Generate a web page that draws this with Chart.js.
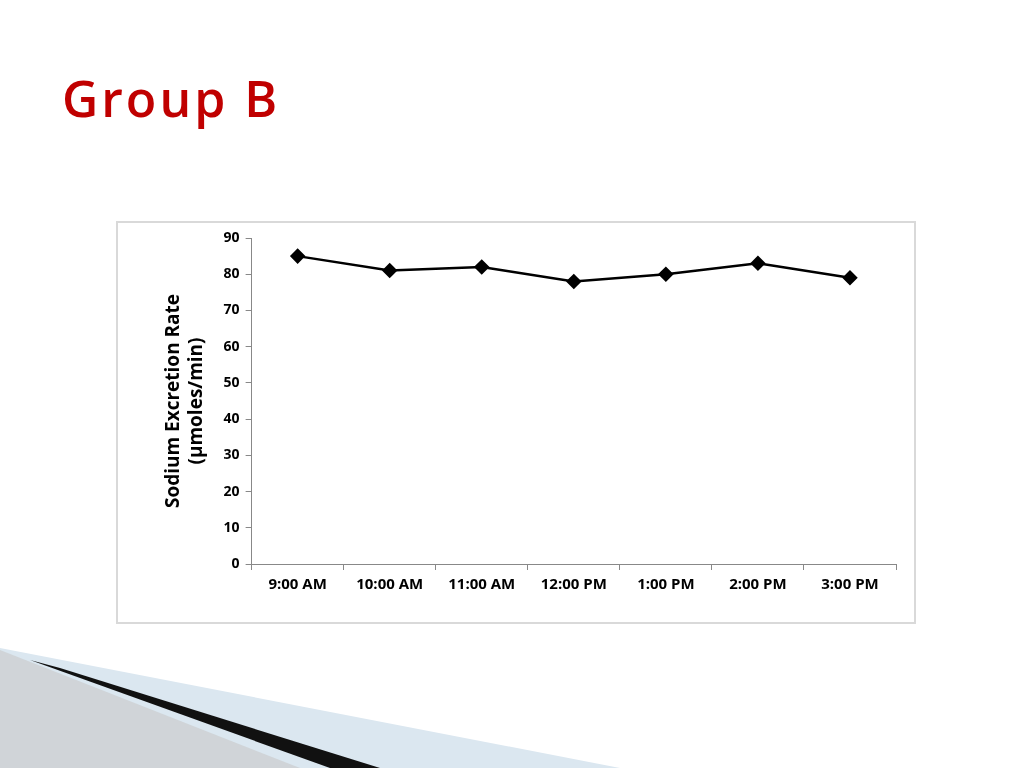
<!DOCTYPE html>
<html><head><meta charset="utf-8">
<script src="https://cdn.jsdelivr.net/npm/chart.js@4/dist/chart.umd.min.js"></script>
<style>
body{margin:0;width:1024px;height:768px;background:#fff;position:relative;overflow:hidden;font-family:"Open Sans",sans-serif}
h1{position:absolute;left:62px;top:64px;margin:0;font:600 50px "Open Sans",sans-serif;color:#C00000;letter-spacing:3px}
#box{position:absolute;left:116px;top:221px;width:796px;height:399px;border:2px solid #d9d9d9;box-sizing:content-box}
svg{position:absolute;left:0;top:0}
</style></head><body>
<h1>Group B</h1>
<svg width="1024" height="768">
<polygon points="0,648 0,768 620,768" fill="#dbe7f0"/>
<polygon points="0,650 0,768 300,768" fill="#c8c8c8" opacity="0.6"/>
<polygon points="30,660 60,668 380,768 330,768" fill="#111"/>
</svg>
<div id="box"><canvas id="c"></canvas></div>
<script>
const categories=["9:00 AM","10:00 AM","11:00 AM","12:00 PM","1:00 PM","2:00 PM","3:00 PM"];
const values=[85,81,82,78,80,83,79];
const yTicks=[0,10,20,30,40,50,60,70,80,90];
new Chart(document.getElementById('c'),{
type:'line',
data:{labels:categories,datasets:[{data:values,borderColor:'#000',borderWidth:2.5,pointStyle:'rectRot',pointRadius:6,pointBackgroundColor:'#000',pointBorderColor:'#000',tension:0}]},
options:{responsive:true,maintainAspectRatio:false,animation:false,
layout:{padding:{left:40,right:18,top:15,bottom:22}},
plugins:{legend:{display:false},tooltip:{enabled:false}},
scales:{
x:{offset:true,grid:{offset:true,drawOnChartArea:false,color:'#888',tickLength:6},border:{color:'#888'},
ticks:{color:'#000',font:{family:'Open Sans',size:15,weight:'bold'},maxRotation:0,padding:6}},
y:{min:0,max:90,afterBuildTicks:a=>{a.ticks=yTicks.map(v=>({value:v}))},grid:{drawOnChartArea:false,color:'#888',tickLength:6},border:{color:'#888'},
ticks:{color:'#000',font:{family:'Open Sans',size:14,weight:'bold'},padding:6},
title:{display:true,text:['Sodium Excretion Rate','(µmoles/min)'],color:'#000',font:{family:'Open Sans',size:19,weight:'bold'},padding:{bottom:10},lineHeight:1.25}}
}}});
</script>
</body></html>
